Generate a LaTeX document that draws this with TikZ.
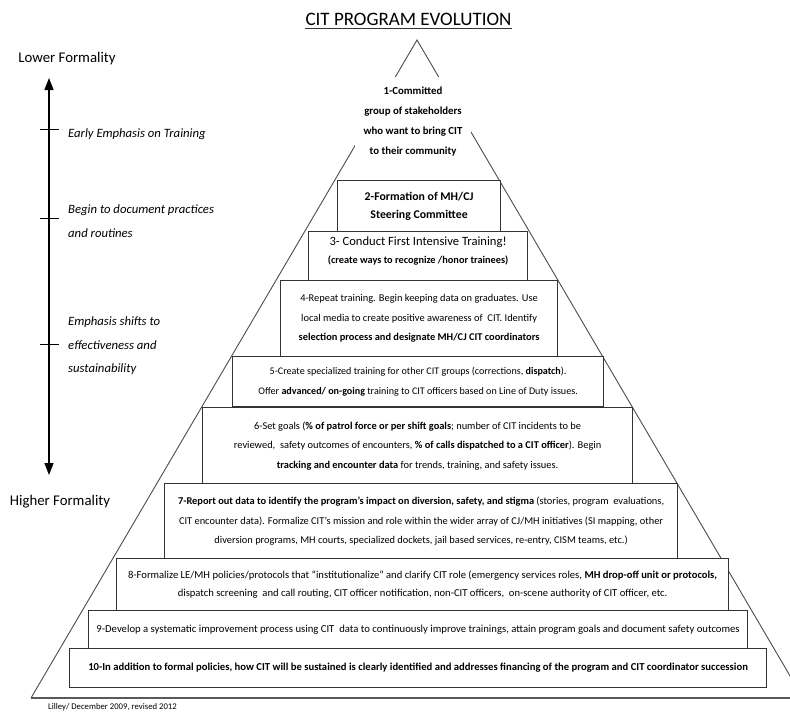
\documentclass[tikz,border=0pt]{standalone}
\usepackage{fontspec}
\setmainfont{Carlito}
\usetikzlibrary{arrows.meta}
\begin{document}
\begin{tikzpicture}[x=1pt,y=-1pt,
  boxstyle/.style={draw=black!80, line width=1.2pt, fill=white, inner sep=0pt,
    align=center, anchor=north west, font=\fontsize{10.4}{19.5}\selectfont},
  sidelabel/.style={anchor=west, align=left, inner sep=0pt,
    font=\fontsize{12.7}{23.5}\selectfont\itshape},
  endlabel/.style={inner sep=0pt, font=\fontsize{14.8}{16}\selectfont},
  tri/.style={draw=black!70, line width=0.9pt},
  tick/.style={draw=black, line width=1pt}
]
\useasboundingbox (0,0) rectangle (790,713);

% title
\node[inner sep=0pt, font=\fontsize{19}{22}\selectfont] (title) at (408.5,19) {CIT PROGRAM EVOLUTION};
\draw[black!80, line width=0.9pt] ([yshift=-3.5pt]title.base west) -- ([yshift=-3.5pt]title.base east);

% pyramid outline
\coordinate (apex) at (417,40);
\coordinate (bl) at (31,698);
\coordinate (br) at (803,698);
\coordinate (bend) at (790,698);
\begin{scope}
\clip (0,0) rectangle (790,713);
\draw[tri] (bl) -- (apex) -- (br);
\end{scope}
\draw[black!65, line width=2pt] (bl) -- (bend);

% level 1 (white text panel over the outline)
\node[fill=white, inner sep=0pt, minimum width=116pt, minimum height=90pt, align=center,
  font=\fontsize{10.8}{20}\selectfont\bfseries] (b1) at (413,122)
  {1-Committed\\group of stakeholders\\who want to bring CIT\\to their community};

% levels 2-10
\node[boxstyle, minimum width=163pt, minimum height=51pt, font=\fontsize{11.8}{18.5}\selectfont\bfseries] (b2) at (337,180)
  {2-Formation of MH/CJ\\Steering Committee};
\node[boxstyle, minimum width=219pt, minimum height=49pt] (b3) at (308,231) {};
\node[inner sep=0pt, align=center, yshift=5pt, font=\fontsize{10.4}{19.5}\selectfont] (b3text) at (b3.center)
  {{\fontsize{12.6}{16}\selectfont 3- Conduct First Intensive Training!}\\[-1.5pt]
   {\fontsize{10.3}{12}\selectfont\bfseries (create ways to recognize /honor trainees)}};
\node[boxstyle, minimum width=277pt, minimum height=76pt] (b4) at (280,280)
  {4-Repeat training. Begin keeping data on graduates. Use\\
   local media to create positive awareness of \ CIT. Identify\\
   \textbf{selection process and designate MH/CJ CIT coordinators}};
\node[boxstyle, minimum width=371pt, minimum height=50pt, font=\fontsize{10.1}{19.5}\selectfont] (b5) at (232,356)
  {5-Create specialized training for other CIT groups (corrections, \textbf{dispatch}).\\
   Offer \textbf{advanced/ on-going} training to CIT officers based on Line of Duty issues.};
\node[boxstyle, minimum width=430pt, minimum height=76pt] (b6) at (202,407)
  {6-Set goals (\textbf{\% of patrol force or per shift goals}; number of CIT incidents to be\\
   reviewed, \ safety outcomes of encounters, \textbf{\% of calls dispatched to a CIT officer}). Begin\\
   \textbf{tracking and encounter data} for trends, training, and safety issues.};
\node[boxstyle, minimum width=513pt, minimum height=75pt] (b7) at (164,483)
  {\textbf{7-Report out data to identify the program’s impact on diversion, safety, and stigma} (stories, program \ evaluations,\\
   CIT encounter data). Formalize CIT’s mission and role within the wider array of CJ/MH initiatives (SI mapping, other\\
   diversion programs, MH courts, specialized dockets, jail based services, re-entry, CISM teams, etc.)};
\node[boxstyle, minimum width=612pt, minimum height=52pt, font=\fontsize{10.6}{18}\selectfont] (b8) at (116,558)
  {8-Formalize LE/MH policies/protocols that “institutionalize” and clarify CIT role (emergency services roles, \textbf{MH drop-off unit or protocols,}\\
   dispatch screening \ and call routing, CIT officer notification, non-CIT officers, \ on-scene authority of CIT officer, etc.};
\node[boxstyle, minimum width=659pt, minimum height=38pt, font=\fontsize{10.7}{18}\selectfont] (b9) at (88,610)
  {9-Develop a systematic improvement process using CIT \ data to continuously improve trainings, attain program goals and document safety outcomes};
\node[boxstyle, minimum width=697pt, minimum height=39pt, font=\fontsize{10.65}{18}\selectfont\bfseries] (b10) at (69,648)
  {10-In addition to formal policies, how CIT will be sustained is clearly identified and addresses financing of the program and CIT coordinator succession};

% formality axis
\node[endlabel] (low) at (67,59) {Lower Formality};
\node[endlabel] (high) at (60,502) {Higher Formality};
\coordinate (atop) at (49,78);
\coordinate (abot) at (49,475);
\draw[black, line width=1.3pt, {Triangle[width=9pt,length=12pt]}-{Triangle[width=9pt,length=12pt]}] (atop) -- (abot);
\coordinate (t1) at (49,129);
\coordinate (t2) at (49,218);
\coordinate (t3) at (49,344);
\draw[tick] ([xshift=-9pt]t1) -- ([xshift=10pt]t1);
\draw[tick] ([xshift=-9pt]t2) -- ([xshift=10pt]t2);
\draw[tick] ([xshift=-9pt]t3) -- ([xshift=10pt]t3);
\node[sidelabel] (s1) at (68,134) {Early Emphasis on Training};
\node[sidelabel] (s2) at (68,221) {Begin to document practices\\and routines};
\node[sidelabel] (s3) at (68,346) {Emphasis shifts to\\effectiveness and\\sustainability};

% footer
\node[anchor=west, inner sep=0pt, font=\fontsize{8.7}{10}\selectfont] (foot) at (48,707) {Lilley/ December 2009, revised 2012};
\end{tikzpicture}
\end{document}
